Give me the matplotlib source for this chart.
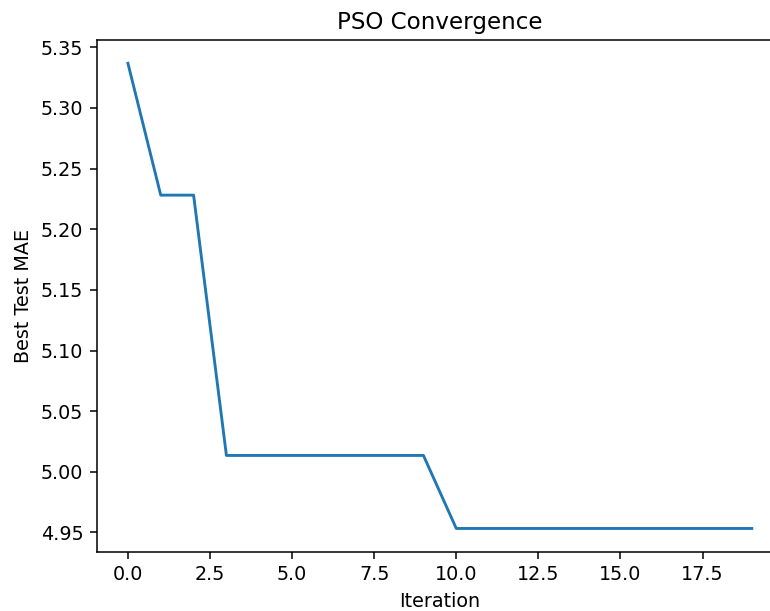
"""Recreates the PSO convergence line chart."""

import matplotlib

matplotlib.use("Agg")

import matplotlib.pyplot as plt


FIG_WIDTH_PX = 770
FIG_HEIGHT_PX = 611
DPI = 138

ITERATIONS = list(range(20))
BEST_TEST_MAE = [5.3368, 5.2281, 5.2281, 5.0135, 5.0135, 5.0135, 5.0135, 5.0135, 5.0135, 5.0135,
                 4.9533, 4.9533, 4.9533, 4.9533, 4.9533, 4.9533, 4.9533, 4.9533, 4.9533, 4.9533]


def main():
    """Draws the chart and saves it."""
    figure = plt.figure(figsize=(FIG_WIDTH_PX / DPI, FIG_HEIGHT_PX / DPI), dpi=DPI)
    # right edge sits past the figure border, the reference is cropped there
    axes = figure.add_axes((0.1256, 0.097, 0.8913, 0.8375))
    axes.plot(ITERATIONS, BEST_TEST_MAE)
    axes.set_title("PSO Convergence")
    axes.set_xlabel("Iteration")
    axes.set_ylabel("Best Test MAE")
    figure.savefig("out.png", dpi=DPI)


if __name__ == "__main__":
    main()
